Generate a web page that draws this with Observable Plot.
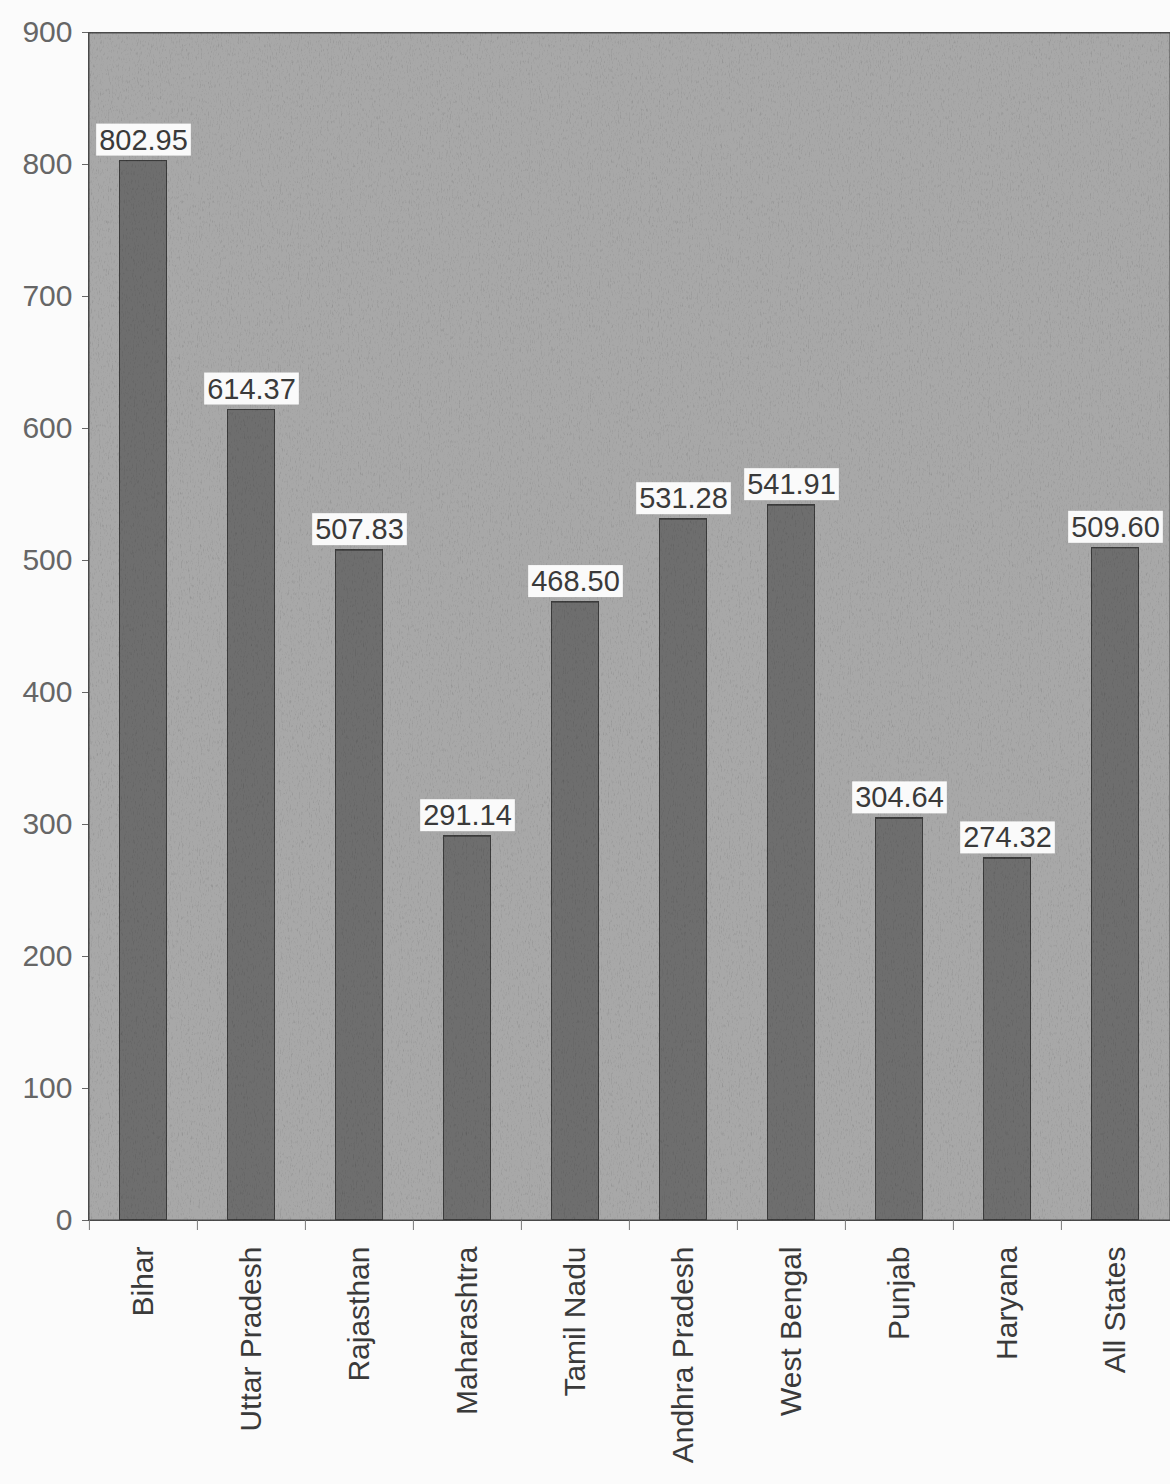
<!DOCTYPE html>
<html>
<head>
<meta charset="utf-8">
<script src="https://cdn.jsdelivr.net/npm/d3@7"></script>
<script src="https://cdn.jsdelivr.net/npm/@observablehq/plot@0.6"></script>
<style>
  html, body { margin: 0; padding: 0; background: #fbfbfb; }
  #chart svg { display: block; }
</style>
</head>
<body>
<div id="chart"></div>
<script>
const states = ["Bihar", "Uttar Pradesh", "Rajasthan", "Maharashtra", "Tamil Nadu",
  "Andhra Pradesh", "West Bengal", "Punjab", "Haryana", "All States"];
const values = [802.95, 614.37, 507.83, 291.14, 468.50, 531.28, 541.91, 304.64, 274.32, 509.60];
const yTicks = [0, 100, 200, 300, 400, 500, 600, 700, 800, 900];

const data = states.map((s, i) => ({state: s, value: values[i]}));

const W = 1170, ML = 88, MR = 0;
const step = (W - ML - MR) / states.length;

const svg = Plot.plot({
  width: W,
  height: 1484,
  marginTop: 32,
  marginLeft: ML,
  marginRight: MR,
  marginBottom: 264,
  x: {domain: states, paddingInner: 0.56, paddingOuter: 0.28, label: null},
  y: {domain: [0, 900], label: null},
  style: {fontFamily: "'Liberation Sans', Arial, sans-serif", background: "#fbfbfb", overflow: "visible"},
  marks: [
    Plot.frame({fill: "#a8a8a8", stroke: "#4a4a4a", strokeWidth: 2}),
    Plot.barY(data, {x: "state", y: "value", fill: "#6e6e6e", stroke: "#3a3a3a", strokeWidth: 2}),
    Plot.text(data, {x: "state", y: "value", text: d => d.value.toFixed(2), dy: -11, lineAnchor: "bottom", fontSize: 29, fill: "#3a3a3a"}),
    Plot.axisY({ticks: yTicks, tickSize: 6, tickPadding: 10, fontSize: 30, color: "#666"}),
    Plot.axisX({tickRotate: -90, tickSize: 0, tickPadding: 26, fontSize: 30, color: "#3a3a3a"}),
    Plot.axisX({tickSize: 10, text: null, dx: -step / 2, color: "#777"})
  ]
});

document.getElementById("chart").appendChild(svg);

// grain texture filter for the scanned look
const ns = "http://www.w3.org/2000/svg";
const defs = document.createElementNS(ns, "defs");
defs.innerHTML = `
<filter id="grain" x="0" y="0" width="100%" height="100%">
  <feTurbulence type="fractalNoise" baseFrequency="0.9 0.25" numOctaves="3" seed="7" result="t"/>
  <feColorMatrix in="t" type="saturate" values="0" result="g"/>
  <feComponentTransfer in="g" result="g2">
    <feFuncR type="linear" slope="0.8" intercept="0.62"/>
    <feFuncG type="linear" slope="0.8" intercept="0.62"/>
    <feFuncB type="linear" slope="0.8" intercept="0.62"/>
    <feFuncA type="linear" slope="0" intercept="1"/>
  </feComponentTransfer>
  <feBlend in="SourceGraphic" in2="g2" mode="multiply" result="b"/>
  <feComposite in="b" in2="SourceGraphic" operator="in"/>
</filter>`;
svg.insertBefore(defs, svg.firstChild);

let frame = svg.querySelector('[aria-label="frame"]');
if (frame) {
  const r = frame.tagName.toLowerCase() === "rect" ? frame : frame.querySelector("rect");
  if (r) r.setAttribute("filter", "url(#grain)");
}
svg.querySelectorAll('g[aria-label="bar"] rect').forEach(r => r.setAttribute("filter", "url(#grain)"));

// white boxes behind value labels
svg.querySelectorAll('g[aria-label="text"] text').forEach(t => {
  const b = t.getBBox();
  const rect = document.createElementNS(ns, "rect");
  rect.setAttribute("x", b.x - 3);
  rect.setAttribute("y", b.y);
  rect.setAttribute("width", b.width + 6);
  rect.setAttribute("height", b.height);
  rect.setAttribute("fill", "#fafafa");
  const tr = t.getAttribute("transform");
  if (tr) rect.setAttribute("transform", tr);
  t.parentNode.insertBefore(rect, t);
});
</script>
</body>
</html>
